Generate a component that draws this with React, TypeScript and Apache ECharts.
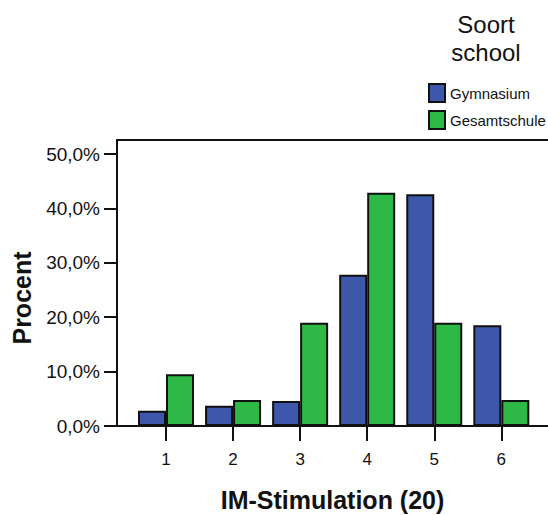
import React, { useEffect, useRef } from "react";
import * as echarts from "echarts";

const categories = [1, 2, 3, 4, 5, 6];
const gymnasium = [2.8, 3.7, 4.6, 27.8, 42.6, 18.5];
const gesamtschule = [9.5, 4.8, 19.0, 42.9, 19.0, 4.8];
const yTicks = [0, 10, 20, 30, 40, 50];
const seriesNames = ["Gymnasium", "Gesamtschule"];
const legendTitle = ["Soort", "school"];
const xTitle = "IM-Stimulation (20)";
const yTitle = "Procent";

const FONT = "'Liberation Sans', Arial, sans-serif";
const BLUE = "#3D58AB";
const GREEN = "#2EB845";

export default function App() {
  const ref = useRef<HTMLDivElement>(null);
  useEffect(() => {
    if (!ref.current) return;
    const chart = echarts.init(ref.current, null, { renderer: "svg" });
    const xMin = 0.2693;
    const xMax = 6.696;
    const fmt = (v: number) => v.toFixed(1).replace(".", ",") + "%";
    chart.setOption({
      animation: false,
      textStyle: { fontFamily: FONT },
      grid: { left: 117, right: 0, top: 140, bottom: 89, outerBoundsMode: "none", containLabel: false },
      legend: {
        orient: "vertical",
        left: 423,
        top: 78,
        itemWidth: 16,
        itemHeight: 18,
        itemGap: 7,
        icon: "rect",
        data: seriesNames,
        textStyle: { fontSize: 15, color: "#111", fontFamily: FONT },
        itemStyle: { borderColor: "#111", borderWidth: 2 },
        selectedMode: false,
      },
      graphic: [
        {
          type: "text",
          x: 486,
          y: 24,
          style: {
            text: legendTitle[0],
            fontSize: 24,
            fontFamily: FONT,
            fill: "#111",
            align: "center",
            verticalAlign: "middle",
          },
        },
        {
          type: "text",
          x: 486,
          y: 52,
          style: {
            text: legendTitle[1],
            fontSize: 24,
            fontFamily: FONT,
            fill: "#111",
            align: "center",
            verticalAlign: "middle",
          },
        },
        {
          type: "text",
          x: 22,
          y: 298,
          rotation: Math.PI / 2,
          style: {
            text: yTitle,
            fontSize: 25,
            fontWeight: "bold",
            fontFamily: FONT,
            fill: "#111",
            align: "center",
            verticalAlign: "middle",
          },
        },
      ],
      xAxis: [
        {
          type: "value",
          min: xMin,
          max: xMax,
          name: xTitle,
          nameLocation: "middle",
          nameGap: 61,
          nameTextStyle: { fontSize: 25, fontWeight: "bold", color: "#111", fontFamily: FONT },
          splitLine: { show: false },
          axisLine: { show: true, onZero: false, lineStyle: { color: "#111", width: 2 } },
          axisTick: {
            show: true,
            length: 15,
            customValues: categories,
            lineStyle: { color: "#111", width: 2 },
          },
          axisLabel: {
            customValues: categories,
            fontSize: 17,
            color: "#111",
            margin: 25,
            formatter: (v: number) => String(v),
          },
        },
        {
          type: "value",
          position: "top",
          min: xMin,
          max: xMax,
          splitLine: { show: false },
          axisLine: { show: true, onZero: false, lineStyle: { color: "#111", width: 2 } },
          axisTick: { show: false },
          axisLabel: { show: false },
        },
      ],
      yAxis: {
        type: "value",
        min: 0,
        max: 52.58,
        splitLine: { show: false },
        axisLine: { show: true, lineStyle: { color: "#111", width: 2 } },
        axisTick: {
          show: true,
          length: 13,
          customValues: yTicks,
          lineStyle: { color: "#111", width: 2 },
        },
        axisLabel: {
          customValues: yTicks,
          fontSize: 19,
          color: "#111",
          margin: 17,
          formatter: fmt,
        },
      },
      series: [
        {
          name: seriesNames[0],
          type: "bar",
          barWidth: 28,
          barGap: "0%",
          data: categories.map((c, i) => [c, gymnasium[i]]),
          itemStyle: { color: BLUE, borderColor: "#111", borderWidth: 2 },
        },
        {
          name: seriesNames[1],
          type: "bar",
          barWidth: 28,
          barGap: "0%",
          data: categories.map((c, i) => [c, gesamtschule[i]]),
          itemStyle: { color: GREEN, borderColor: "#111", borderWidth: 2 },
        },
      ],
    });
    return () => chart.dispose();
  }, []);
  return (
    <div
      ref={ref}
      style={{ position: "absolute", left: 0, top: 0, width: 548, height: 515 }}
    />
  );
}
